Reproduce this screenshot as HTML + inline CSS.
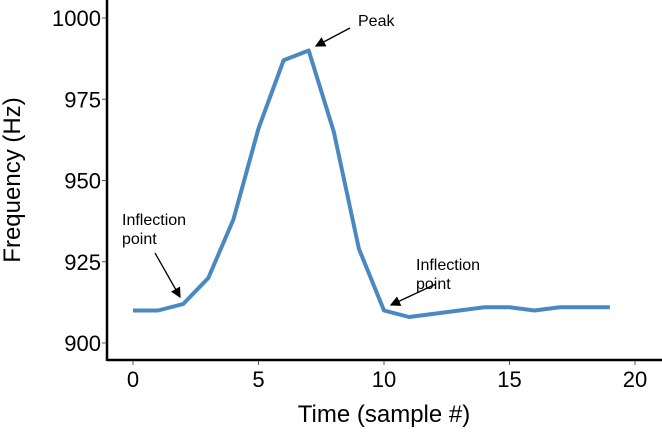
<!DOCTYPE html>
<html><head><meta charset="utf-8"><style>
html,body{margin:0;padding:0;background:#fff;width:662px;height:432px;overflow:hidden}
svg text{font-family:"Liberation Sans",sans-serif}
</style></head><body>
<svg id="chart" width="662" height="432" viewBox="0 0 662 432" xmlns="http://www.w3.org/2000/svg">
<defs><marker id="ah" markerWidth="8" markerHeight="8" refX="7" refY="4" orient="auto"><path d="M0,0 L8,4 L0,8 Z" fill="#000"/></marker></defs>
<g id="axes"></g>
<g id="series"></g>
<g id="annotations"></g>
</svg>
<script>
const xValues = [0,1,2,3,4,5,6,7,8,9,10,11,12,13,14,15,16,17,18,19];
const freqValues = [910,910,912,920,938,966,987,990,965,929,910,908,909,910,911,911,910,911,911,911];
const xTicks = [0,5,10,15,20];
const yTicks = [900,925,950,975,1000];
const NS = "http://www.w3.org/2000/svg";
function sx(v){return 133 + v*25.1;}
function sy(v){return 343 - (v-900)*3.25;}
function mk(tag, attrs, parent){const e=document.createElementNS(NS,tag);for(const k in attrs)e.setAttribute(k,attrs[k]);parent.appendChild(e);return e;}
const axes=document.getElementById('axes');
const xl=mk('line',{x1:107,y1:360,x2:662,y2:360,stroke:'#000','stroke-width':2.5},axes);


const yl=mk('line',{x1:107,y1:0,x2:107,y2:361,stroke:'#000','stroke-width':2.5},axes);


xTicks.forEach(t=>{
  const tk=mk('line',{x1:sx(t),y1:361,x2:sx(t),y2:365,stroke:'#555','stroke-width':1},axes);
  
  
  const tx=mk('text',{x:sx(t),y:387,'font-size':22,'text-anchor':'middle',fill:'#000'},axes);
  tx.textContent=t;
  
  
});
yTicks.forEach(t=>{
  const tk=mk('line',{x1:102,y1:sy(t),x2:106,y2:sy(t),stroke:'#555','stroke-width':1},axes);
  
  
  const tx=mk('text',{x:101,y:sy(t)+8,'font-size':22,'text-anchor':'end',fill:'#000'},axes);
  tx.textContent=t;
  
  
});
const xt=mk('text',{x:384,y:422,'font-size':24,'text-anchor':'middle',fill:'#000'},axes);
xt.textContent='Time (sample #)';


const yt=mk('text',{x:0,y:0,'font-size':24,'text-anchor':'middle',fill:'#000',transform:'translate(20,180) rotate(-90)'},axes);
yt.textContent='Frequency (Hz)';


const pts=xValues.map((x,i)=>sx(x)+','+sy(freqValues[i])).join(' ');
const pl=mk('polyline',{points:pts,fill:'none',stroke:'#4a89c0','stroke-width':4,'stroke-linejoin':'round'},document.getElementById('series'));


const ann=document.getElementById('annotations');
function note(lines,tx,ty,x1,y1,x2,y2,name){
  lines.forEach((l,i)=>{const t=mk('text',{x:tx,y:ty+i*19,'font-size':16,fill:'#000'},ann);t.textContent=l;
    
    });
  const a=mk('line',{x1:x1,y1:y1,x2:x2,y2:y2,stroke:'#000','stroke-width':1.3,'marker-end':'url(#ah)'},ann);
  
  
}
note(['Peak'],358,26,350,28,316,46,'peak');
note(['Inflection','point'],122,225,155,253,180,297,'inflection-left');
note(['Inflection','point'],416,270,436,284,391,305,'inflection-right');
</script>
</body></html>
